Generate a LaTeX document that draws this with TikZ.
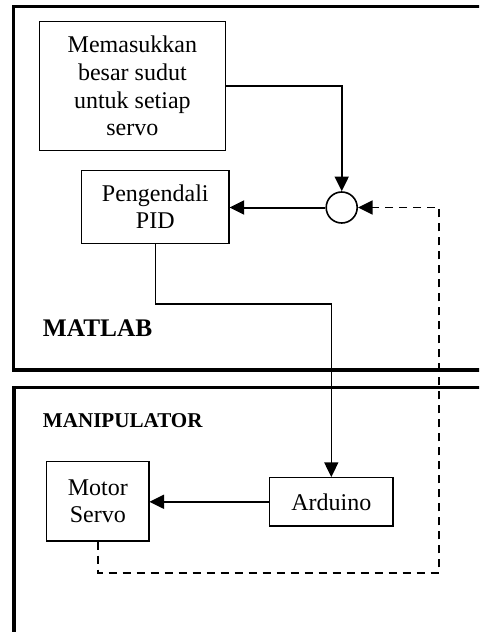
\documentclass[tikz,border=0pt]{standalone}
\usepackage{fontspec}
\setmainfont{Liberation Serif}
\usetikzlibrary{arrows.meta}

\begin{document}
\begin{tikzpicture}[x=0.75pt,y=-0.75pt,>={Triangle[length=11pt,width=10.5pt]},
  block/.style={draw,line width=0.8pt,inner sep=0pt,align=center,font=\fontsize{18}{20.75}\selectfont},
  frame/.style={line width=2.4pt},
  flow/.style={->,line width=1.5pt},
  feedback/.style={->,line width=1.3pt,dash pattern=on 6pt off 4.5pt},
  label/.style={anchor=west,inner sep=0pt,font=\bfseries}]

  \clip (0,0) rectangle (479,632);

  \draw[frame] (490,6.5) -- (13.5,6.5) -- (13.5,370) -- (490,370);
  \draw[frame] (490,387.5) -- (14,387.5) -- (14,640);

  \node[block,minimum width=140pt,minimum height=96.75pt] (input) at (132.4,86.2)
    {Memasukkan\\besar sudut\\untuk setiap\\servo};
  \node[block,minimum width=110.5pt,minimum height=55pt] (pid) at (155.3,206.7)
    {Pengendali\\PID};
  \node[draw,circle,line width=1.2pt,minimum size=23.25pt,inner sep=0pt] (sum) at (341.7,207.5) {};
  \node[block,minimum width=92.5pt,minimum height=36.25pt] (arduino) at (331.3,501.8) {Arduino};
  \node[block,minimum width=76.75pt,minimum height=59.5pt] (servo) at (97.8,501.3) {Motor\\Servo};

  \node[label,font=\bfseries\fontsize{19}{22}\selectfont] (matlab) at (42.7,327.7) {MATLAB};
  \node[label,font=\bfseries\fontsize{15.8}{18}\selectfont] (manip) at (42.7,420.8) {MANIPULATOR};

  \coordinate (turn) at (331.3,304);
  \coordinate (back) at (439.3,572.7);

  \draw[flow] (input.east) -| (sum.north);
  \draw[flow] (sum.west) -- (sum.west -| pid.east);
  \draw[->,line width=1pt] (pid.south) |- (turn) -- (arduino.north);
  \draw[flow] (arduino.west) -- (arduino.west -| servo.east);
  \draw[feedback] (servo.south) |- (back) |- (sum.east);
\end{tikzpicture}
\end{document}
